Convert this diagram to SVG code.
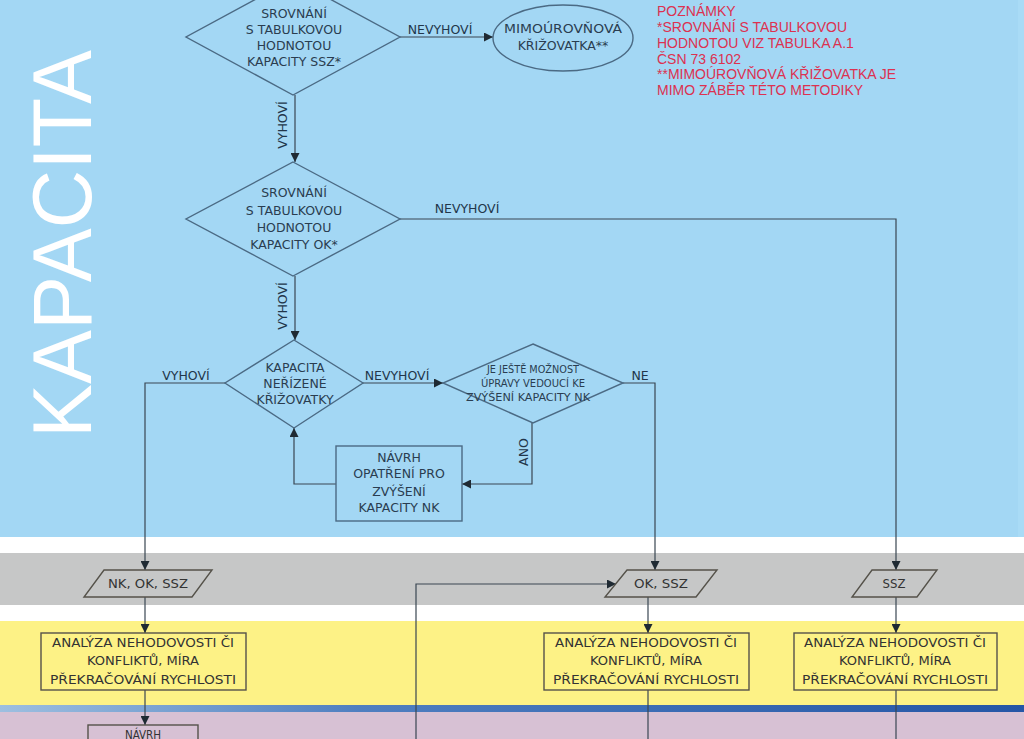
<svg xmlns="http://www.w3.org/2000/svg" width="1024" height="739" viewBox="0 0 1024 739">
<defs>
<marker id="arr" viewBox="0 0 10 10" refX="10" refY="5" markerWidth="9" markerHeight="9" markerUnits="userSpaceOnUse" orient="auto">
<path d="M0,0 L10,5 L0,10 z" fill="#1f2a33"/>
</marker>
<linearGradient id="sep" x1="0" y1="0" x2="1" y2="0">
<stop offset="0" stop-color="#9dbfe0"/>
<stop offset="0.35" stop-color="#4f7fc0"/>
<stop offset="1" stop-color="#2456a6"/>
</linearGradient>
<style>
.shape{fill:none;stroke:#4b6a84;stroke-width:1.4}
.box{fill:none;stroke:#55524a;stroke-width:1.4}
.conn{fill:none;stroke:#3a4652;stroke-width:1.2}
.t{font-family:"DejaVu Sans",sans-serif;font-size:12.5px;fill:#2a3d50;text-anchor:middle}
.ts{font-family:"DejaVu Sans Condensed","DejaVu Sans",sans-serif;font-size:10px;fill:#2a3d50;text-anchor:middle}
.ty{font-family:"DejaVu Sans Condensed","DejaVu Sans",sans-serif;font-size:13px;fill:#333333;text-anchor:middle}
.lbl{font-family:"DejaVu Sans",sans-serif;font-size:12.5px;fill:#22364a;text-anchor:middle}
.note{font-family:"Liberation Sans",Arial,sans-serif;font-size:14px;fill:#dd3150}
</style>
</defs>
<g id="background">
<rect x="0" y="0" width="1024" height="739" fill="#ffffff"/>
<rect x="0" y="0" width="1024" height="537" fill="#a3d7f4"/>
<rect x="1018" y="0" width="6" height="537" fill="#a9dbf6"/>
<rect x="0" y="553" width="1024" height="52" fill="#c6c7c7"/>
<rect x="0" y="621" width="1024" height="85" fill="#fdf286"/>
<rect x="0" y="705" width="1024" height="7" fill="url(#sep)"/>
<rect x="0" y="712" width="1024" height="27" fill="#d7c1d4"/>
<text x="91" y="244" transform="rotate(-90 91 244)" font-family="'Liberation Sans',Arial,sans-serif" font-size="84" fill="#ffffff" text-anchor="middle" textLength="388" lengthAdjust="spacingAndGlyphs">KAPACITA</text>
</g>
<g id="notes">
<text class="note" x="657" y="16">POZNÁMKY</text>
<text class="note" x="657" y="32">*SROVNÁNÍ S TABULKOVOU</text>
<text class="note" x="657" y="48">HODNOTOU VIZ TABULKA A.1</text>
<text class="note" x="657" y="64">ČSN 73 6102</text>
<text class="note" x="657" y="79">**MIMOÚROVŇOVÁ KŘIŽOVATKA JE</text>
<text class="note" x="657" y="95">MIMO ZÁBĚR TÉTO METODIKY</text>
</g>
<g id="connectors">
<path class="conn" d="M400,37 H493" marker-end="url(#arr)"/>
<path class="conn" d="M295,95 V162" marker-end="url(#arr)"/>
<path class="conn" d="M400,219 H896 V570" marker-end="url(#arr)"/>
<path class="conn" d="M295,276 V340" marker-end="url(#arr)"/>
<path class="conn" d="M225,383 H145 V570" marker-end="url(#arr)"/>
<path class="conn" d="M363,383 H443" marker-end="url(#arr)"/>
<path class="conn" d="M623,383 H655 V570" marker-end="url(#arr)"/>
<path class="conn" d="M532,423 V484 H462" marker-end="url(#arr)"/>
<path class="conn" d="M336,484 H294 V428" marker-end="url(#arr)"/>
<path class="conn" d="M145,597 V633" marker-end="url(#arr)"/>
<path class="conn" d="M648,597 V633" marker-end="url(#arr)"/>
<path class="conn" d="M896,597 V633" marker-end="url(#arr)"/>
<path class="conn" d="M416,739 V584 H616" marker-end="url(#arr)"/>
<path class="conn" d="M145,690 V725" marker-end="url(#arr)"/>
<path class="conn" d="M648,690 V739"/>
<path class="conn" d="M896,690 V739"/>
<text class="lbl" x="440" y="34">NEVYHOVÍ</text>
<text class="lbl" x="283" y="125" transform="rotate(-90 283 125)" dy="4">VYHOVÍ</text>
<text class="lbl" x="467" y="213">NEVYHOVÍ</text>
<text class="lbl" x="283" y="306" transform="rotate(-90 283 306)" dy="4">VYHOVÍ</text>
<text class="lbl" x="186" y="380">VYHOVÍ</text>
<text class="lbl" x="397" y="380">NEVYHOVÍ</text>
<text class="lbl" x="640" y="380">NE</text>
<text class="lbl" x="524" y="452" transform="rotate(-90 524 452)" dy="4">ANO</text>
</g>
<g id="decision-ssz">
<polygon class="shape" points="293,-21 400,37 293,95 186,37"/>
<text class="t" x="294" y="18">SROVNÁNÍ</text>
<text class="t" x="294" y="34">S TABULKOVOU</text>
<text class="t" x="294" y="50">HODNOTOU</text>
<text class="t" x="294" y="66">KAPACITY SSZ*</text>
</g>
<g id="terminal-mimourovnova">
<ellipse class="shape" cx="563" cy="38" rx="70" ry="33"/>
<text class="t" x="563" y="33" textLength="118" lengthAdjust="spacingAndGlyphs">MIMOÚROVŇOVÁ</text>
<text class="t" x="563" y="50">KŘIŽOVATKA**</text>
</g>
<g id="decision-ok">
<polygon class="shape" points="293,162 400,219 293,276 186,219"/>
<text class="t" x="294" y="197">SROVNÁNÍ</text>
<text class="t" x="294" y="215">S TABULKOVOU</text>
<text class="t" x="294" y="232">HODNOTOU</text>
<text class="t" x="294" y="249">KAPACITY OK*</text>
</g>
<g id="decision-nk">
<polygon class="shape" points="294,340 363,383 294,428 225,383"/>
<text class="t" x="295" y="372">KAPACITA</text>
<text class="t" x="295" y="388">NEŘÍZENÉ</text>
<text class="t" x="295" y="404">KŘIŽOVATKY</text>
</g>
<g id="decision-uprava">
<polygon class="shape" points="533,344 623,383 533,423 443,383"/>
<text class="ts" x="533" y="373" textLength="92" lengthAdjust="spacingAndGlyphs">JE JEŠTĚ MOŽNOST</text>
<text class="ts" x="533" y="387" textLength="104" lengthAdjust="spacingAndGlyphs">ÚPRAVY VEDOUCÍ KE</text>
<text class="ts" x="528" y="401" textLength="124" lengthAdjust="spacingAndGlyphs">ZVÝŠENÍ KAPACITY NK</text>
</g>
<g id="box-navrh-nk">
<rect class="shape" x="336" y="446" width="126" height="75"/>
<text class="t" x="399" y="462">NÁVRH</text>
<text class="t" x="399" y="478">OPATŘENÍ PRO</text>
<text class="t" x="399" y="496">ZVÝŠENÍ</text>
<text class="t" x="399" y="512">KAPACITY NK</text>
</g>
<g id="data-nk-ok-ssz">
<polygon class="box" points="104,570 212,570 192,597 84,597"/>
<text class="ty" x="148" y="588" textLength="80" lengthAdjust="spacingAndGlyphs">NK, OK, SSZ</text>
</g>
<g id="data-ok-ssz">
<polygon class="box" points="627,570 717,570 696,597 605,597"/>
<text class="ty" x="661" y="588" textLength="54" lengthAdjust="spacingAndGlyphs">OK, SSZ</text>
</g>
<g id="data-ssz">
<polygon class="box" points="872,570 937,570 917,597 852,597"/>
<text class="ty" x="894" y="588">SSZ</text>
</g>
<g id="analyza-1">
<rect class="box" x="41" y="633" width="205" height="57"/>
<text class="ty" x="143" y="647" textLength="182" lengthAdjust="spacingAndGlyphs">ANALÝZA NEHODOVOSTI ČI</text>
<text class="ty" x="143" y="665" textLength="112" lengthAdjust="spacingAndGlyphs">KONFLIKTŮ, MÍRA</text>
<text class="ty" x="143" y="684" textLength="186" lengthAdjust="spacingAndGlyphs">PŘEKRAČOVÁNÍ RYCHLOSTI</text>
</g>
<g id="analyza-2">
<rect class="box" x="544" y="633" width="205" height="57"/>
<text class="ty" x="646" y="647" textLength="182" lengthAdjust="spacingAndGlyphs">ANALÝZA NEHODOVOSTI ČI</text>
<text class="ty" x="646" y="665" textLength="112" lengthAdjust="spacingAndGlyphs">KONFLIKTŮ, MÍRA</text>
<text class="ty" x="646" y="684" textLength="186" lengthAdjust="spacingAndGlyphs">PŘEKRAČOVÁNÍ RYCHLOSTI</text>
</g>
<g id="analyza-3">
<rect class="box" x="794" y="633" width="203" height="57"/>
<text class="ty" x="895" y="647" textLength="182" lengthAdjust="spacingAndGlyphs">ANALÝZA NEHODOVOSTI ČI</text>
<text class="ty" x="895" y="665" textLength="112" lengthAdjust="spacingAndGlyphs">KONFLIKTŮ, MÍRA</text>
<text class="ty" x="895" y="684" textLength="186" lengthAdjust="spacingAndGlyphs">PŘEKRAČOVÁNÍ RYCHLOSTI</text>
</g>
<g id="box-navrh-bottom">
<rect class="box" x="88" y="725" width="110" height="30"/>
<text class="ty" x="143" y="738.5" style="font-size:11.5px">NÁVRH</text>
</g>
</svg>
